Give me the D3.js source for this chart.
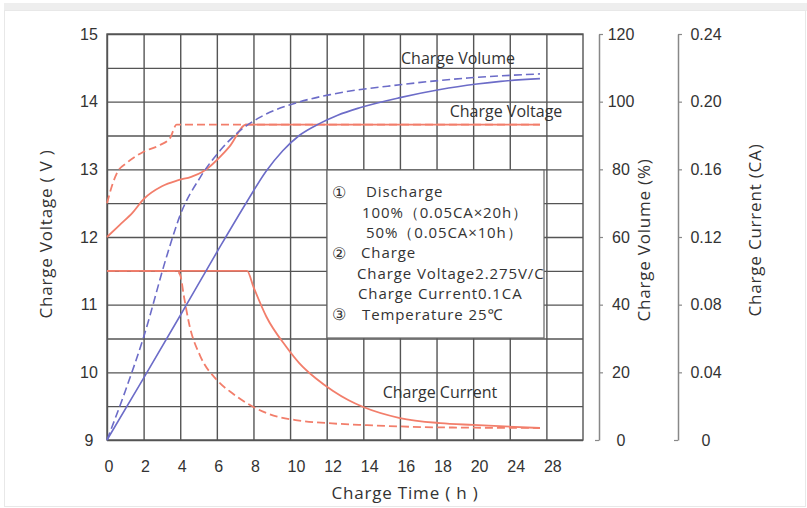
<!DOCTYPE html>
<html>
<head>
<meta charset="utf-8">
<script src="https://cdn.jsdelivr.net/npm/d3@7"></script>
<style>
  body { margin: 0; background: #fff; }
  svg { display: block; font-family: "Open Sans", "Noto Sans", sans-serif; }
  text { fill: #333; }
</style>
</head>
<body>
<div id="chart"></div>
<script>
// x tick labels (the axis jumps from 20 to 24 to 28 with equal spacing)
const xTicks = [0, 2, 4, 6, 8, 10, 12, 14, 16, 18, 20, 24, 28]
const voltTicks = [9, 10, 11, 12, 13, 14, 15]
const volTicks = [0, 20, 40, 60, 80, 100, 120]
const curTicks = [0, 0.04, 0.08, 0.12, 0.16, 0.20, 0.24]

// [hours, value]
const voltage100 = [[0, 12.0], [0.7, 12.18], [1.4, 12.36], [2, 12.56], [3, 12.75], [3.9, 12.84], [4.6, 12.89], [5.2, 12.96], [5.7, 13.06], [6.2, 13.19], [6.7, 13.34], [7.6, 13.66], [27.3, 13.66]]
const voltage50 = [[0, 12.5], [0.3, 12.78], [0.55, 12.95], [1.1, 13.1], [2, 13.26], [2.9, 13.36], [3.44, 13.46], [3.8, 13.66], [27.3, 13.66]]
const volume100 = [[0, 0], [2, 18.3], [4, 36.8], [6, 55.5], [7.65, 70.5], [8.7, 79.5], [9.6, 85.5], [10.5, 90], [11.6, 93.5], [12.6, 96], [13.8, 98.2], [16, 101.2], [18.2, 103.6], [20.4, 105.2], [23, 106], [27.3, 106.8]]
const volume50 = [[0, 0], [1, 14.5], [2, 30.4], [3.3, 55], [4, 66.5], [5.1, 77.7], [6.2, 85.7], [7.3, 91.6], [8.4, 95.5], [10.5, 99.9], [12.3, 102.2], [16, 105], [19.7, 107], [27.3, 108.2]]
const current100 = [[0, 0.1], [7.65, 0.1], [8, 0.0905], [8.7, 0.073], [9.8, 0.055], [10.5, 0.0455], [11.4, 0.0365], [12.35, 0.029], [13.2, 0.0235], [14, 0.0195], [16, 0.013], [18.2, 0.010], [20, 0.0089], [27.3, 0.0071]]
const current50 = [[0, 0.1], [3.8, 0.1], [4, 0.0975], [4.2, 0.085], [4.5, 0.068], [5.1, 0.0495], [6, 0.0355], [6.9, 0.0272], [8, 0.0195], [9.3, 0.0138], [10.5, 0.0115], [12.3, 0.0098], [14.2, 0.0088], [17.9, 0.0075], [27.3, 0.0071]]

const legendLines = [
    { mark: '①', text: 'Discharge', dx: 39 },
    { mark: '', text: '100%（0.05CA×20h）', dx: 35 },
    { mark: '', text: '50%（0.05CA×10h）', dx: 39 },
    { mark: '②', text: 'Charge', dx: 34 },
    { mark: '', text: 'Charge Voltage2.275V/C', dx: 30 },
    { mark: '', text: 'Charge Current0.1CA', dx: 31 },
    { mark: '③', text: 'Temperature 25℃', dx: 35 }
]

const width = 807, height = 508
const margin = ({ top: 34, right: 224, bottom: 68, left: 107 })
const red = '#f27e6b', blue = '#6c6cc8', grid = '#555'

const svg = d3.select('#chart').append('svg')
    .attr('width', width)
    .attr('height', height)

// screenshot frame
svg.append('rect').attr('x', 4).attr('y', 3).attr('width', 803).attr('height', 8).attr('fill', '#eeeeee')
svg.append('rect').attr('x', 4.5).attr('y', 10.5).attr('width', 801).attr('height', 496)
    .attr('fill', 'none').attr('stroke', '#e8e8e8')

const x0 = margin.left, x1 = width - margin.right
const colW = (x1 - x0) / 13
const x = d3.scaleLinear()
    .domain([0, 20, 32])
    .range([x0, x0 + 10 * colW, x1])
// map tick label -> grid position (24 and 28 sit on the 11th and 12th lines)
const tickPos = (t, i) => i <= 10 ? t : 20 + (i - 10) * 4

const y = d3.scaleLinear().domain([9, 15]).range([height - margin.bottom, margin.top])
const yVol = d3.scaleLinear().domain([0, 120]).range([height - margin.bottom, margin.top])
const yCur = d3.scaleLinear().domain([0, 0.24]).range([height - margin.bottom, margin.top])

// grid + x axis
const gx = svg.append('g')
    .attr('transform', `translate(0,${height - margin.bottom})`)
    .call(d3.axisBottom(x)
        .tickValues(xTicks.map(tickPos))
        .tickFormat((d, i) => xTicks[i])
        .tickSize(-(height - margin.top - margin.bottom))
        .tickPadding(21))
gx.select('.domain').remove()
gx.selectAll('line').attr('stroke', grid).attr('stroke-width', 1.4)
gx.selectAll('text').attr('text-anchor', 'start').attr('x', -3)
    .style('font-size', '16px').attr('fill', '#333')

const gy = svg.append('g')
    .attr('transform', `translate(${margin.left},0)`)
    .call(d3.axisLeft(y)
        .tickValues(d3.range(9, 15.01, 0.5))
        .tickFormat(d => voltTicks.includes(d) ? d : '')
        .tickSize(-(x1 - x0)))
gy.select('.domain').remove()
gy.selectAll('line').attr('stroke', grid).attr('stroke-width', 1.4)
gy.selectAll('text').attr('text-anchor', 'middle').attr('x', -18)
    .style('font-size', '16px').attr('fill', '#333')

svg.append('rect')
    .attr('x', x0).attr('y', margin.top)
    .attr('width', x1 - x0).attr('height', height - margin.top - margin.bottom)
    .attr('fill', 'none').attr('stroke', grid).attr('stroke-width', 1.4)

// right axes
const rightAxis = (scale, ticks, fmt, xpos, lx) => {
    const g = svg.append('g')
        .attr('transform', `translate(${xpos},0)`)
        .call(d3.axisRight(scale).tickValues(ticks).tickFormat(fmt).tickSize(4).tickSizeOuter(0))
    g.select('.domain').attr('stroke', '#888').attr('stroke-width', 1.5)
    g.selectAll('line').attr('stroke', '#888').attr('stroke-width', 1.2)
    g.selectAll('.tick').filter(d => d === 0).select('line').attr('x2', -4)
    g.selectAll('text').attr('text-anchor', 'middle').attr('x', lx)
        .style('font-size', '16px').attr('fill', '#333')
}
rightAxis(yVol, volTicks, d => d, 599, 22)
rightAxis(yCur, curTicks, d => d === 0 ? '0' : d3.format('.2f')(d), 678, 28)

// curves
const lineV = d3.line().x(d => x(d[0])).y(d => y(d[1])).curve(d3.curveMonotoneX)
const lineVol = d3.line().x(d => x(d[0])).y(d => yVol(d[1])).curve(d3.curveMonotoneX)
const lineCur = d3.line().x(d => x(d[0])).y(d => yCur(d[1])).curve(d3.curveMonotoneX)

const series = [
    { data: current50, line: lineCur, color: red, dash: '8,4', w: 1.8 },
    { data: current100, line: lineCur, color: red, dash: null, w: 1.8 },
    { data: voltage50, line: lineV, color: red, dash: '8,4', w: 1.8 },
    { data: voltage100, line: lineV, color: red, dash: null, w: 1.8 },
    { data: volume50, line: lineVol, color: blue, dash: '8,4', w: 1.6 },
    { data: volume100, line: lineVol, color: blue, dash: null, w: 1.6 }
]
series.forEach(s => {
    svg.append('path')
        .datum(s.data)
        .attr('fill', 'none')
        .attr('stroke', s.color)
        .attr('stroke-width', s.w)
        .attr('stroke-dasharray', s.dash)
        .attr('d', s.line)
})

// curve labels
const notes = [
    { text: 'Charge Volume', x: 458, y: 58 },
    { text: 'Charge Voltage', x: 506, y: 111 },
    { text: 'Charge Current', x: 440, y: 392 }
]
svg.selectAll('.note').data(notes).join('text')
    .attr('class', 'note')
    .attr('x', d => d.x).attr('y', d => d.y)
    .attr('dy', '0.35em')
    .attr('text-anchor', 'middle')
    .style('font-size', '16px')
    .text(d => d.text)

// legend box
const lg = svg.append('g').attr('transform', 'translate(327,170)')
lg.append('rect').attr('width', 217).attr('height', 168)
    .attr('fill', '#fff').attr('stroke', '#666').attr('stroke-width', 1.2)
legendLines.forEach((l, i) => {
    const ty = 22 + i * 20.4
    if (l.mark) lg.append('text').attr('x', 5).attr('y', ty).attr('dy', '0.35em')
        .style('font-size', '16px').attr('fill', '#777').text(l.mark)
    lg.append('text').attr('x', l.dx).attr('y', ty).attr('dy', '0.35em')
        .style('font-size', '15px').style('letter-spacing', '0.9px').text(l.text)
})

// axis titles
const title = (t, tr) => svg.append('text')
    .attr('transform', tr)
    .attr('text-anchor', 'middle').attr('dy', '0.35em')
    .style('font-size', '17px').style('letter-spacing', '0.8px')
    .text(t)
title('Charge Voltage ( V )', 'translate(46,234) rotate(-90)')
title('Charge Time ( h )', 'translate(405,493)')
title('Charge Volume (%)', 'translate(644,240) rotate(-90)')
title('Charge Current (CA)', 'translate(755,230) rotate(-90)')
</script>
</body>
</html>
